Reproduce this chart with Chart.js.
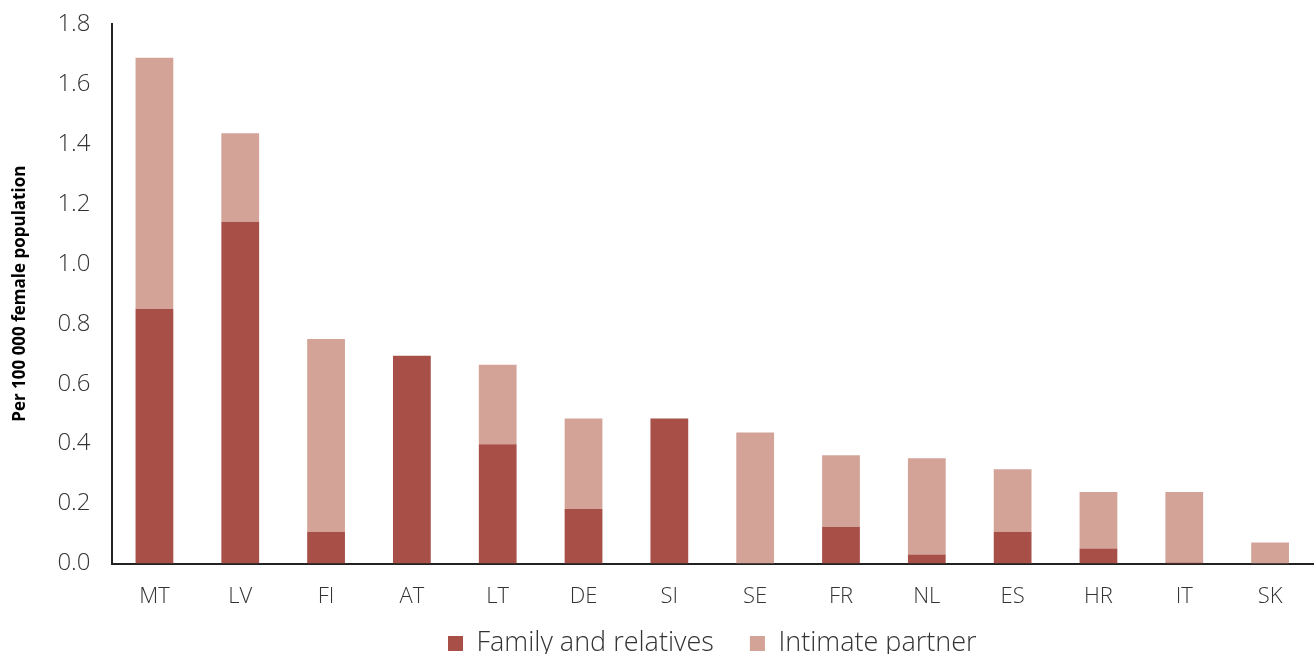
<!DOCTYPE html>
<html>
<head>
<meta charset="utf-8">
<script src="https://cdn.jsdelivr.net/npm/chart.js@4/dist/chart.umd.min.js"></script>
<style>
  html, body { margin: 0; padding: 0; background: #fff; }
  #wrap { width: 1314px; height: 654px; }
</style>
</head>
<body>
<div id="wrap"><canvas id="chart"></canvas></div>
<script>
// data
const countries = ['MT', 'LV', 'FI', 'AT', 'LT', 'DE', 'SI', 'SE', 'FR', 'NL', 'ES', 'HR', 'IT', 'SK'];
const familyRelatives = [0.85, 1.14, 0.106, 0.693, 0.398, 0.182, 0.484, 0, 0.123, 0.03, 0.106, 0.05, 0.004, 0];
const intimatePartner = [0.837, 0.295, 0.643, 0, 0.265, 0.302, 0, 0.4375, 0.238, 0.321, 0.209, 0.189, 0.235, 0.07];

const font = "'Open Sans', 'Noto Sans', sans-serif";

new Chart(document.getElementById('chart'), {
    type: 'bar',
    data: {
        labels: countries,
        datasets: [
            {
                label: 'Family and relatives',
                data: familyRelatives,
                backgroundColor: '#A84F47',
                barPercentage: 0.44,
                categoryPercentage: 1
            },
            {
                label: 'Intimate partner',
                data: intimatePartner,
                backgroundColor: '#D3A398',
                barPercentage: 0.44,
                categoryPercentage: 1
            }
        ]
    },
    options: {
        responsive: true,
        maintainAspectRatio: false,
        animation: false,
        layout: { padding: { top: 0, right: 1, left: 6, bottom: -13 } },
        plugins: {
            tooltip: { enabled: false },
            legend: {
                position: 'bottom',
                fullSize: false,
                labels: {
                    font: { family: font, size: 27, weight: 300 },
                    color: '#333',
                    boxWidth: 15,
                    boxHeight: 15,
                    padding: 8,
                    // widen the gap between the two items
                    generateLabels: chart => {
                        const items = Chart.defaults.plugins.legend.labels.generateLabels(chart);
                        items.forEach((it, i) => {
                            if (i < items.length - 1) it.text += '\u00a0\u00a0\u00a0\u00a0';
                        });
                        return items;
                    }
                }
            }
        },
        scales: {
            x: {
                stacked: true,
                grid: { display: false },
                border: { display: true, color: '#222', width: 2 },
                ticks: { font: { family: font, size: 22, weight: 300 }, color: '#333', padding: 12 }
            },
            y: {
                stacked: true,
                min: 0,
                max: 1.8,
                grid: { display: false },
                border: { display: true, color: '#222', width: 2 },
                ticks: {
                    stepSize: 0.2,
                    font: { family: font, size: 24, weight: 300, lineHeight: 0.9 },
                    color: '#333',
                    padding: 13,
                    callback: v => v.toFixed(1)
                },
                title: {
                    display: true,
                    text: 'Per 100 000 female population',
                    font: { family: font, size: 17, weight: 'bold' },
                    color: '#000',
                    padding: { bottom: 14 }
                }
            }
        }
    }
});
</script>
</body>
</html>
